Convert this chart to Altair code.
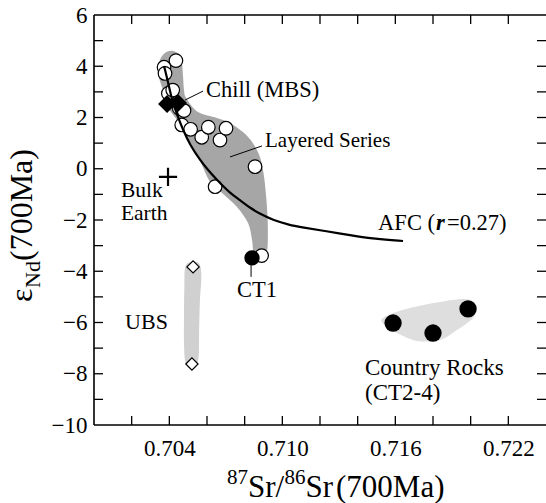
import altair as alt
import pandas as pd

FONT = "Liberation Serif"

# ---------------- data ----------------
# Layered Series (open circles)
ls_x = [0.70435, 0.70372, 0.70377, 0.70395, 0.70418, 0.70453, 0.70478, 0.70466,
        0.70513, 0.70572, 0.70607, 0.70669, 0.70701, 0.70855, 0.70643, 0.70890]
ls_y = [4.22, 3.96, 3.72, 2.94, 3.07, 2.36, 2.27, 1.71,
        1.54, 1.23, 1.62, 1.12, 1.58, 0.08, -0.70, -3.39]

# Chill (MBS) filled diamonds
chill_x = [0.70388, 0.70446]
chill_y = [2.53, 2.57]

# UBS open diamonds
ubs_x = [0.70526, 0.70520]
ubs_y = [-3.83, -7.62]

# CT1 filled circle
ct1_x = [0.70839]
ct1_y = [-3.48]

# Country rocks CT2-4 filled circles
cr_x = [0.71588, 0.71800, 0.71986]
cr_y = [-6.02, -6.41, -5.47]

# Bulk Earth
be_x = [0.70393]
be_y = [-0.32]

# AFC curve (r = 0.27)
afc_x = [0.70372, 0.70393, 0.70414, 0.70441, 0.70473, 0.70510, 0.70563, 0.70605,
         0.70653, 0.70722, 0.70775, 0.70828, 0.70892, 0.70950, 0.71041, 0.71094,
         0.71227, 0.71359, 0.71492, 0.71641]
afc_y = [4.01, 3.39, 2.68, 2.10, 1.51, 0.93, 0.34, -0.05,
         -0.44, -0.95, -1.22, -1.53, -1.80, -2.00, -2.20, -2.27,
         -2.43, -2.59, -2.74, -2.82]

# Field outlines
ls_poly_x = [0.70350, 0.70377, 0.70419, 0.70457, 0.70467, 0.70473, 0.70478, 0.70490,
             0.70552, 0.70653, 0.70722, 0.70791, 0.70844, 0.70881, 0.70900, 0.70913,
             0.70922, 0.70922, 0.70910, 0.70880, 0.70850, 0.70839, 0.70818, 0.70759,
             0.70680, 0.70615, 0.70563, 0.70494, 0.70441, 0.70393, 0.70361, 0.70340]
ls_poly_y = [4.24, 4.52, 4.60, 4.44, 4.13, 3.58, 3.07, 2.75,
             2.21, 1.98, 1.79, 1.43, 1.00, 0.46, -0.17, -1.00,
             -2.00, -3.00, -3.45, -3.62, -3.40, -2.78, -2.12, -1.49,
             -0.95, -0.50, 0.30, 1.24, 1.90, 2.41, 3.19, 3.74]

ubs_poly_x = [0.70495, 0.70530, 0.70560, 0.70570, 0.70562, 0.70558, 0.70556, 0.70540,
              0.70510, 0.70485, 0.70478, 0.70478, 0.70480, 0.70482]
ubs_poly_y = [-3.70, -3.62, -3.72, -4.20, -5.20, -6.40, -7.30, -7.75,
              -7.80, -7.55, -6.80, -5.60, -4.50, -3.95]

cr_poly_x = [0.71535, 0.71678, 0.71959, 0.72028, 0.72012, 0.71927, 0.71837, 0.71715,
             0.71609, 0.71545]
cr_poly_y = [-5.82, -5.43, -5.08, -5.36, -5.82, -6.29, -6.68, -6.72,
             -6.41, -6.10]

# Annotations
lab_text = ["Chill (MBS)", "Layered Series", "Bulk", "Earth", "UBS",
            "Country Rocks", "(CT2-4)"]
lab_x = [0.70595, 0.70908, 0.70143, 0.70143, 0.70165, 0.71439, 0.71439]
lab_y = [3.07, 1.08, -0.86, -1.76, -5.98, -7.78, -8.75]

ct1_lab_x = [0.70866]
ct1_lab_y = [-4.73]

afc_lab_x = [0.71816]
afc_lab_y = [-2.12]

lead_x = [0.70483, 0.70722, 0.70834]
lead_y = [2.68, 0.46, -3.68]
lead_x2 = [0.70579, 0.70892, 0.70834]
lead_y2 = [3.03, 0.89, -4.22]

x_ticks = [0.702, 0.704, 0.706, 0.708, 0.710, 0.712, 0.714, 0.716, 0.718, 0.720, 0.722]
x_labels = [0.704, 0.710, 0.716, 0.722]
y_ticks = [-9, -8, -7, -6, -5, -4, -3, -2, -1, 0, 1, 2, 3, 4, 5]
y_labels = [-10, -8, -6, -4, -2, 0, 2, 4, 6]

# ---------------- chart ----------------
W, H = 452, 410
xs = alt.Scale(domain=[0.700, 0.724], nice=False, zero=False)
ys = alt.Scale(domain=[-10, 6], nice=False, zero=False)
xaxis = alt.Axis(values=x_labels, format=".3f", title=None, ticks=False, tickSize=0,
                 domain=False, grid=False, labelPadding=12, labelFlush=False,
                 labelOverlap=False)
yaxis = alt.Axis(values=y_labels, title=None, ticks=False, tickSize=0, domain=False,
                 grid=False, labelPadding=7, labelFlush=False, labelOverlap=False)


def X(f):
    return alt.X(f, type="quantitative", scale=xs, axis=xaxis)


def Y(f):
    return alt.Y(f, type="quantitative", scale=ys, axis=yaxis)


def poly(px, py, color):
    df = pd.DataFrame({"x": px, "y": py, "i": list(range(len(px)))})
    return alt.Chart(df).mark_line(interpolate="cardinal-closed", fill=color,
                                   strokeOpacity=0).encode(
        x=X("x"), y=Y("y"), order=alt.Order("i:Q"))


def pts(px, py):
    return pd.DataFrame({"x": px, "y": py})


layers = []
layers.append(poly(ls_poly_x, ls_poly_y, "#a6a6a6"))
layers.append(poly(ubs_poly_x, ubs_poly_y, "#d0d0d0"))
layers.append(poly(cr_poly_x, cr_poly_y, "#dedede"))

# leader lines
lead_df = pd.DataFrame({"x": lead_x, "y": lead_y, "x2": lead_x2, "y2": lead_y2})
layers.append(alt.Chart(lead_df).mark_rule(color="black", strokeWidth=1).encode(
    x=X("x"), y=Y("y"), x2="x2", y2="y2"))

# open circles
layers.append(alt.Chart(pts(ls_x, ls_y)).mark_point(
    shape="circle", filled=True, fill="white", stroke="black", strokeWidth=1.2,
    size=185, opacity=1).encode(x=X("x"), y=Y("y")))

# AFC curve
afc_df = pd.DataFrame({"x": afc_x, "y": afc_y, "i": list(range(len(afc_x)))})
layers.append(alt.Chart(afc_df).mark_line(color="black", strokeWidth=2.2,
                                          interpolate="basis").encode(
    x=X("x"), y=Y("y"), order=alt.Order("i:Q")))

# chill diamonds
layers.append(alt.Chart(pts(chill_x, chill_y)).mark_point(
    shape="diamond", filled=True, fill="black", stroke="black", size=230,
    opacity=1).encode(x=X("x"), y=Y("y")))

# UBS diamonds
layers.append(alt.Chart(pts(ubs_x, ubs_y)).mark_point(
    shape="diamond", filled=True, fill="white", stroke="black", strokeWidth=1.2,
    size=150, opacity=1).encode(x=X("x"), y=Y("y")))

# CT1
layers.append(alt.Chart(pts(ct1_x, ct1_y)).mark_point(
    shape="circle", filled=True, fill="black", size=235, opacity=1).encode(
    x=X("x"), y=Y("y")))

# country rocks
layers.append(alt.Chart(pts(cr_x, cr_y)).mark_point(
    shape="circle", filled=True, fill="black", size=300, opacity=1).encode(
    x=X("x"), y=Y("y")))

# Bulk Earth cross
layers.append(alt.Chart(pts(be_x, be_y)).mark_point(
    shape="M-1,0L1,0M0,-1L0,1", filled=False, stroke="black", strokeWidth=2.2,
    size=330, opacity=1).encode(x=X("x"), y=Y("y")))

# labels
lab_df = pd.DataFrame({"x": lab_x, "y": lab_y, "t": lab_text,
                       "s": [22.5, 21, 21.5, 21.5, 22, 23, 23]})
layers.append(alt.Chart(lab_df).mark_text(
    font=FONT, align="left", baseline="middle", color="black").encode(
    x=X("x"), y=Y("y"), text="t:N",
    size=alt.Size("s:Q", scale=None, legend=None)))

layers.append(alt.Chart(pts(ct1_lab_x, ct1_lab_y)).mark_text(
    text="CT1", font=FONT, fontSize=22.5, align="center", baseline="middle",
    color="black").encode(x=X("x"), y=Y("y")))

afc_lab = pts(afc_lab_x, afc_lab_y)
layers.append(alt.Chart(afc_lab).mark_text(
    text="AFC (", font=FONT, fontSize=22.5, align="right", baseline="middle",
    color="black", dx=-1).encode(x=X("x"), y=Y("y")))
layers.append(alt.Chart(afc_lab).mark_text(
    text="r", font=FONT, fontSize=22.5, align="left", baseline="middle",
    fontStyle="italic", fontWeight="bold", color="black").encode(x=X("x"), y=Y("y")))
layers.append(alt.Chart(afc_lab).mark_text(
    text="=0.27)", font=FONT, fontSize=22.5, align="left", baseline="middle",
    color="black", dx=11).encode(x=X("x"), y=Y("y")))

# inward ticks on all four sides
xt = pd.DataFrame({"v": x_ticks})
yt = pd.DataFrame({"v": y_ticks})
TK = 9
layers.append(alt.Chart(xt).mark_rule(color="black", strokeWidth=1.3).encode(
    x=X("v"), y=alt.value(H), y2=alt.value(H - TK)))
layers.append(alt.Chart(xt).mark_rule(color="black", strokeWidth=1.3).encode(
    x=X("v"), y=alt.value(0), y2=alt.value(TK)))
layers.append(alt.Chart(yt).mark_rule(color="black", strokeWidth=1.3).encode(
    y=Y("v"), x=alt.value(0), x2=alt.value(TK)))
layers.append(alt.Chart(yt).mark_rule(color="black", strokeWidth=1.3).encode(
    y=Y("v"), x=alt.value(W), x2=alt.value(W - TK)))

# frame (left, top, bottom)
one = pd.DataFrame({"a": [0]})
layers.append(alt.Chart(one).mark_rule(color="black", strokeWidth=1.6).encode(
    x=alt.value(0), y=alt.value(0), y2=alt.value(H)))
layers.append(alt.Chart(one).mark_rule(color="black", strokeWidth=1.6).encode(
    x=alt.value(0), x2=alt.value(W), y=alt.value(0)))
layers.append(alt.Chart(one).mark_rule(color="black", strokeWidth=1.6).encode(
    x=alt.value(0), x2=alt.value(W), y=alt.value(H)))

# axis titles built from pieces (super/subscripts)
def txt(s, x, y, size, **kw):
    return alt.Chart(one).mark_text(text=s, font=FONT, fontSize=size, color="black",
                                    **kw).encode(x=alt.value(x), y=alt.value(y))

TF, SF = 31, 21
layers.append(txt("87", 133, 469, SF, align="left", baseline="alphabetic"))
layers.append(txt("Sr/", 154, 482, TF, align="left", baseline="alphabetic"))
layers.append(txt("86", 190.5, 469, SF, align="left", baseline="alphabetic"))
layers.append(txt("Sr", 211.5, 482, TF, align="left", baseline="alphabetic"))
layers.append(txt("(700Ma)", 242, 482, TF, align="left", baseline="alphabetic"))

YF, YS = 32, 22
layers.append(txt("\u03b5", -62, 287, YF, align="left", baseline="alphabetic", angle=270))
layers.append(txt("Nd", -54, 273, YS, align="left", baseline="alphabetic", angle=270))
layers.append(txt("(700Ma)", -62, 246, YF, align="left", baseline="alphabetic", angle=270))

chart = alt.layer(*layers).properties(
    width=W, height=H,
    autosize=alt.AutoSizeParams(type="none"),
    padding={"left": 94, "top": 15, "right": 0, "bottom": 78},
    background="white",
).configure_view(stroke=None).configure_axis(
    labelFont=FONT, labelFontSize=23, labelColor="black"
)

chart.save("out.html", embed_options={"renderer": "svg", "actions": False})
